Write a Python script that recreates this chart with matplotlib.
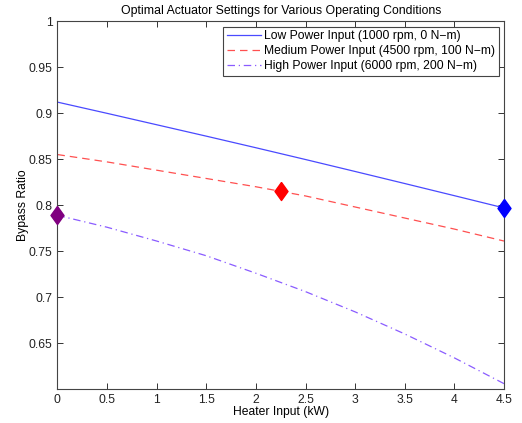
import numpy as np
import matplotlib.pyplot as plt

plt.rcParams['font.family'] = ['Liberation Sans', 'DejaVu Sans']
plt.rcParams['font.size'] = 8.7

heater = [0, 0.5, 1, 1.5, 2, 2.5, 3, 3.5, 4, 4.5]
low_power = [0.912, 0.8998, 0.8874, 0.8750, 0.8624, 0.8496, 0.8366, 0.8235, 0.8103, 0.797]
med_power = [0.855, 0.847, 0.838, 0.829, 0.820, 0.810, 0.798, 0.786, 0.774, 0.761]
high_power = [0.789, 0.776, 0.761, 0.745, 0.726, 0.706, 0.684, 0.660, 0.634, 0.606]

# optimum point picked for each operating condition
opt_x = [4.5, 2.25, 0]
opt_y = [0.797, 0.815, 0.789]
opt_colors = ['#0000ff', '#ff0000', '#800080']

labels = ['Low Power Input (1000 rpm, 0 N\u2212m)',
          'Medium Power Input (4500 rpm, 100 N\u2212m)',
          'High Power Input (6000 rpm, 200 N\u2212m)']

fig = plt.figure(figsize=(5.22, 4.23), dpi=100)
ax = fig.add_axes([0.110, 0.080, 0.8555, 0.870])

ax.plot(heater, low_power, '-', color='#4a4aff', lw=0.9, label=labels[0])
ax.plot(heater, med_power, '--', color='#ff5050', lw=0.9, dashes=(6, 4), label=labels[1])
ax.plot(heater, high_power, '-.', color='#8a5cff', lw=0.9, dashes=(6, 3, 1, 3), label=labels[2])

diamond = [(0, 1), (0.72, 0), (0, -1), (-0.72, 0), (0, 1)]
for x, y, c in zip(opt_x, opt_y, opt_colors):
    ax.plot(x, y, marker=diamond, markersize=13, color=c, clip_on=False, zorder=5)

ax.set_xlim(0, 4.5)
ax.set_ylim(0.6, 1.0)
ax.set_xticks(heater)
ax.set_xticklabels(['0', '0.5', '1', '1.5', '2', '2.5', '3', '3.5', '4', '4.5'])
yt = [0.65, 0.7, 0.75, 0.8, 0.85, 0.9, 0.95, 1.0]
ax.set_yticks(yt)
ax.set_yticklabels(['0.65', '0.7', '0.75', '0.8', '0.85', '0.9', '0.95', '1'])
ax.tick_params(direction='in', top=True, right=True, length=4, width=0.7,
               color='#333333', labelcolor='#222222', pad=3.5)
for s in ax.spines.values():
    s.set_color('#444444')
    s.set_linewidth(0.8)

ax.set_title('Optimal Actuator Settings for Various Operating Conditions', fontsize=8.8, pad=5)
ax.set_xlabel('Heater Input (kW)', labelpad=0)
ax.set_ylabel('Bypass Ratio', labelpad=0)

leg = ax.legend(loc='upper right', fancybox=False, edgecolor='#444444',
                framealpha=1, handlelength=2.8, handletextpad=0.25,
                labelspacing=0.25, borderpad=0.3, borderaxespad=0.45, fontsize=8.7)
leg.get_frame().set_linewidth(0.8)

plt.savefig('out.png', dpi=100)
